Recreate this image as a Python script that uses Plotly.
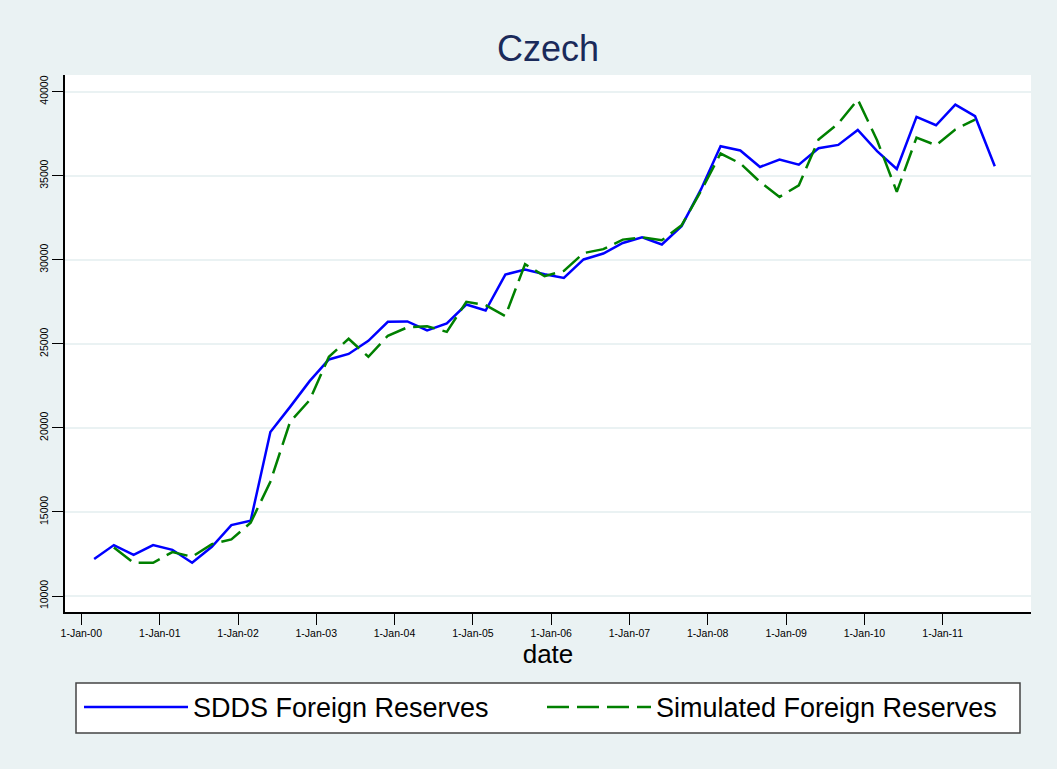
import pandas as pd
import plotly.graph_objects as go

# Quarterly observation dates (1st of Mar/Jun/Sep/Dec), Mar-2000 .. Sep-2011
dates_sdds = pd.date_range("2000-03-01", "2011-09-01", freq="3MS")
dates_sim = pd.date_range("2000-06-01", "2011-06-01", freq="3MS")

sdds_reserves = [
    12200, 13030, 12450, 13030, 12750, 11980, 12930, 14220, 14480, 19750,
    21250, 22780, 24070, 24400, 25180, 26310, 26330, 25800, 26210, 27340,
    26980, 29120, 29420, 29140, 28920, 30020, 30370, 31000, 31330, 30910,
    32000, 34200, 36750, 36500, 35520, 35960, 35660, 36630, 36830, 37720,
    36460, 35400, 38500, 38000, 39230, 38540, 35560,
]
simulated_reserves = [
    12890, 11980, 11980, 12615, 12340, 13090, 13370, 14360, 16800, 20360,
    21650, 24230, 25300, 24230, 25480, 25980, 26050, 25710, 27500, 27300,
    26650, 29740, 29020, 29340, 30400, 30630, 31200, 31330, 31160, 32050,
    34100, 36320, 35730, 34630, 33740, 34430, 37150, 38100, 39530, 37110,
    34040, 37270, 36810, 37750, 38340,
]
y_ticks = [10000, 15000, 20000, 25000, 30000, 35000, 40000]
x_ticks = pd.date_range("2000-01-01", "2011-01-01", freq="YS")

FONT = "Liberation Sans, Arial, sans-serif"
BG = "#eaf2f3"

fig = go.Figure()
fig.add_trace(go.Scatter(
    x=dates_sdds, y=sdds_reserves, mode="lines",
    name="SDDS Foreign Reserves",
    line=dict(color="#0000ff", width=2.5),
))
fig.add_trace(go.Scatter(
    x=dates_sim, y=simulated_reserves, mode="lines",
    name="Simulated Foreign Reserves",
    line=dict(color="#008000", width=2.5, dash="22px,8px"),
))

# legend frame (drawn as a paper-referenced box behind the legend entries)
fig.add_shape(type="rect", xref="paper", yref="paper",
              x0=11 / 966, x1=955 / 966, y0=-121 / 537, y1=-71 / 537,
              fillcolor="white", line=dict(color="#444444", width=1.5),
              layer="below")

fig.update_layout(
    width=1057, height=769,
    paper_bgcolor=BG, plot_bgcolor="white",
    margin=dict(l=65, r=26, t=75, b=157, autoexpand=False),
    font=dict(family=FONT, color="#000000"),
    title=dict(text="Czech", x=0.5, xanchor="center", xref="paper",
               y=0.9376, yanchor="middle",
               font=dict(size=36, color="#1a2a5a", family=FONT)),
    showlegend=True,
    legend=dict(
        orientation="h", x=0.0145, xanchor="left", y=-0.132, yanchor="top",
        bgcolor="rgba(0,0,0,0)", borderwidth=0,
        font=dict(size=27, family=FONT), itemwidth=104, entrywidth=344,
        itemclick=False,
    ),
    xaxis=dict(
        type="date",
        range=["1999-10-17", "2012-02-17"],
        tickvals=list(x_ticks), tickformat="%-d-%b-%y",
        ticks="outside", ticklen=11, tickwidth=1.2, tickcolor="#000000",
        showgrid=False, zeroline=False,
        showline=True, linecolor="#000000", linewidth=1.5,
        tickfont=dict(size=10.5, family=FONT),
        title=dict(text="date", font=dict(size=26, family=FONT), standoff=2),
    ),
    yaxis=dict(
        range=[9050, 40990],
        tickvals=y_ticks, tickformat="d", tickangle=-90,
        ticks="outside", ticklen=11, tickwidth=1.2, tickcolor="#000000",
        showgrid=True, gridcolor=BG, gridwidth=1.5, zeroline=False,
        showline=True, linecolor="#000000", linewidth=1.5,
        tickfont=dict(size=10.5, family=FONT),
    ),
)

fig.write_html("out.html", config={"displayModeBar": False},
               post_script="document.body.style.margin='0';")
